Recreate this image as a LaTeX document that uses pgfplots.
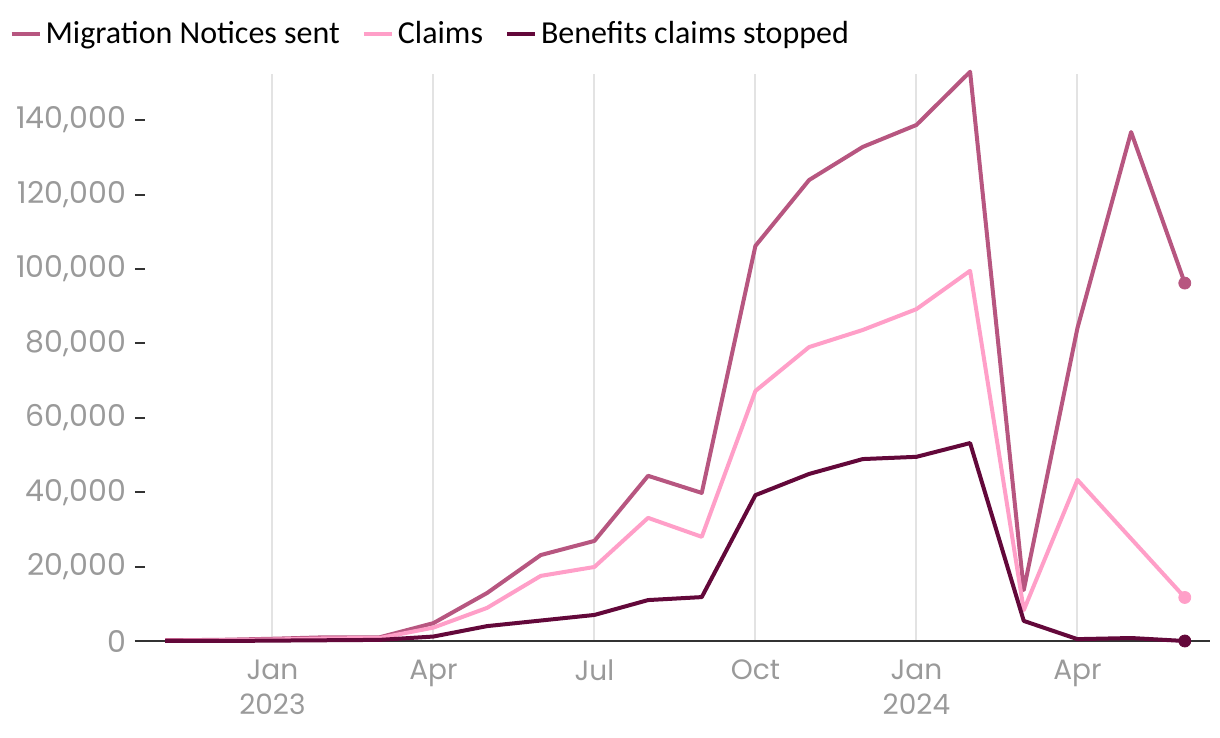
\documentclass[border=0pt]{standalone}
\usepackage{fontspec}
\usepackage{pgfplots}
\pgfplotsset{compat=1.18}
\setmainfont{Carlito}
\newfontfamily\tickfont{Poppins}
\definecolor{mig}{HTML}{B75680}
\definecolor{clm}{HTML}{FF9FC8}
\definecolor{ben}{HTML}{63083A}
\definecolor{tickgray}{HTML}{9A9A9A}
\definecolor{gridgray}{HTML}{E3E3E3}
\definecolor{basecol}{HTML}{333333}
\begin{document}
\begin{tikzpicture}
\useasboundingbox (0,0) rectangle (610pt,369pt);
\begin{axis}[
  at={(67.5pt,48.5pt)}, anchor=south west,
  scale only axis, width=537.5pt, height=283.5pt,
  xmin=-0.56, xmax=19.47, ymin=0, ymax=152400,
  axis x line*=bottom, axis y line*=left,
  x axis line style={draw=basecol, line width=1.2pt, -},
  y axis line style={draw=none},
  xtick={2,5,8,11,14,17},
  xticklabels={Jan\\2023,Apr,Jul,Oct,Jan\\2024,Apr},
  xticklabel style={align=center, font=\tickfont\fontsize{14}{17.5}\selectfont, text=tickgray, yshift=-6pt},
  major x tick style={draw=none},
  xmajorgrids, x grid style={draw=gridgray, line width=1pt},
  ytick={0,20000,40000,60000,80000,100000,120000,140000},
  yticklabels={0,{20,000},{40,000},{60,000},{80,000},{100,000},{120,000},{140,000}},
  scaled y ticks=false,
  ytick align=inside, major tick length=5pt,
  major y tick style={draw=basecol, line width=1pt},
  yticklabel style={font=\tickfont\fontsize{15}{16}\selectfont, text=tickgray, xshift=-1pt},
  legend style={at={(axis description cs:-0.117,1.10)}, anchor=north west, draw=none, fill=none,
    legend columns=-1, font=\fontsize{16}{18}\selectfont,
    /tikz/every even column/.append style={column sep=9pt},
    inner sep=0pt},
  legend image code/.code={\draw[#1, line width=2pt] (0pt,0pt) -- (14pt,0pt);},
  clip=false,
]
\addplot[mig, line width=2pt, line join=round] coordinates {
(0,200)(1,300)(2,600)(3,1000)(4,1000)(5,4800)(6,12900)(7,23100)(8,26900)(9,44400)
(10,39800)(11,106200)(12,123900)(13,132800)(14,138700)(15,153000)(16,13700)(17,84100)(18,136800)(19,96200)};
\addlegendentry{Migration Notices sent}
\addplot[clm, line width=2pt, line join=round] coordinates {
(0,100)(1,200)(2,400)(3,700)(4,800)(5,3600)(6,8900)(7,17500)(8,19900)(9,33100)
(10,28000)(11,67200)(12,79000)(13,83600)(14,89200)(15,99500)(16,8300)(17,43300)(18,27500)(19,11700)};
\addlegendentry{Claims}
\addplot[ben, line width=2pt, line join=round] coordinates {
(0,0)(1,0)(2,100)(3,200)(4,300)(5,1200)(6,4000)(7,5500)(8,7000)(9,11000)
(10,11800)(11,39200)(12,44900)(13,48900)(14,49500)(15,53200)(16,5400)(17,500)(18,800)(19,0)};
\addlegendentry{Benefits claims stopped}
\addplot[only marks, mark=*, mark size=3pt, mig, forget plot] coordinates {(19,96200)};
\addplot[only marks, mark=*, mark size=3pt, clm, forget plot] coordinates {(19,11700)};
\addplot[only marks, mark=*, mark size=3pt, ben, forget plot] coordinates {(19,0)};
\end{axis}
\end{tikzpicture}
\end{document}
